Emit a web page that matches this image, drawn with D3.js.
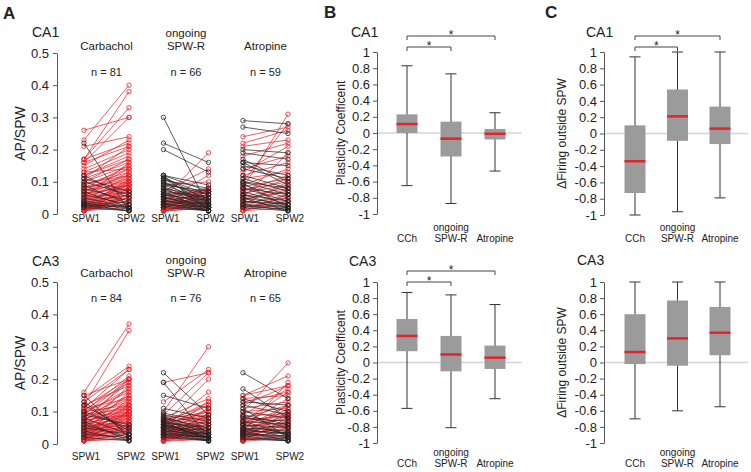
<!DOCTYPE html>
<html>
<head>
<meta charset="utf-8">
<script src="https://cdn.jsdelivr.net/npm/d3@7"></script>
<style>
  body { margin: 0; background: #fff; }
  text { font-family: "Liberation Sans", Arial, sans-serif; fill: #222; }
  .axis path, .axis line { stroke: #555; }
  .axis text { font-size: 13px; fill: #222; font-family: "Liberation Sans", Arial, sans-serif; }
</style>
</head>
<body>
<svg id="fig" width="751" height="472"></svg>
<script>
// ---- panel A: AP/SPW pairs [SPW1, SPW2] ----
var ca1Cch = [[0.26,0.30],[0.23,0.40],[0.21,0.24],[0.17,0.38],[0.17,0.33],[0.16,0.30],[0.17,0.22],[0.16,0.21],[0.15,0.23],[0.14,0.20],
  [0.13,0.19],[0.12,0.18],[0.12,0.17],[0.11,0.16],[0.11,0.21],[0.10,0.15],[0.10,0.17],[0.09,0.14],[0.09,0.13],[0.08,0.15],
  [0.08,0.12],[0.08,0.11],[0.07,0.14],[0.07,0.10],[0.07,0.12],[0.06,0.11],[0.06,0.09],[0.06,0.13],[0.05,0.08],[0.05,0.10],
  [0.05,0.16],[0.05,0.07],[0.04,0.09],[0.04,0.06],[0.04,0.12],[0.04,0.08],[0.03,0.07],[0.03,0.05],[0.03,0.10],[0.03,0.06],
  [0.03,0.09],[0.02,0.04],[0.02,0.06],[0.02,0.08],[0.02,0.05],[0.02,0.11],[0.02,0.03],[0.02,0.07],[0.01,0.03],[0.01,0.05],
  [0.01,0.04],[0.01,0.08],[0.01,0.02],[0.01,0.06],[0.01,0.10],[0.015,0.03],[0.015,0.05],[0.025,0.04],[0.035,0.06],[0.045,0.07],
  [0.055,0.09],[0.065,0.08],[0.075,0.09],[0.085,0.10],[0.095,0.12],[0.13,0.14],
  [0.22,0.01],[0.12,0.05],[0.11,0.07],[0.10,0.06],[0.09,0.03],[0.08,0.04],[0.07,0.02],[0.06,0.03],[0.05,0.02],[0.04,0.02],
  [0.03,0.01],[0.03,0.02],[0.02,0.01],[0.025,0.01],[0.035,0.015]];
var ca1Ongoing = [[0.30,0.02],[0.22,0.16],[0.20,0.13],[0.12,0.09],[0.12,0.07],[0.115,0.04],[0.11,0.06],[0.11,0.03],[0.10,0.05],[0.10,0.02],
  [0.09,0.04],[0.09,0.07],[0.085,0.03],[0.08,0.05],[0.08,0.02],[0.075,0.04],[0.07,0.01],[0.07,0.05],[0.065,0.03],[0.06,0.02],
  [0.06,0.04],[0.055,0.01],[0.05,0.03],[0.05,0.02],[0.045,0.01],[0.04,0.02],[0.04,0.03],[0.035,0.01],[0.03,0.02],[0.03,0.01],
  [0.025,0.01],[0.02,0.01],[0.12,0.01],[0.105,0.08],[0.095,0.06],
  [0.05,0.19],[0.07,0.14],[0.04,0.12],[0.09,0.10],[0.06,0.08],[0.03,0.07],[0.02,0.06],[0.01,0.05],[0.015,0.04],[0.02,0.08],
  [0.03,0.05],[0.01,0.03],[0.025,0.06],[0.035,0.07],[0.045,0.08],[0.01,0.02],[0.02,0.03],[0.015,0.07],[0.04,0.06],[0.05,0.07],
  [0.055,0.075],[0.01,0.04],[0.03,0.04],[0.02,0.05],[0.06,0.07],[0.012,0.03],[0.035,0.05],[0.045,0.06],[0.015,0.025],[0.025,0.035],
  [0.008,0.02]];
var ca1Atropine = [[0.29,0.28],[0.27,0.25],[0.20,0.19],[0.19,0.17],[0.16,0.15],[0.16,0.09],[0.15,0.12],[0.12,0.08],[0.10,0.06],[0.10,0.08],
  [0.09,0.05],[0.08,0.04],[0.08,0.06],[0.07,0.03],[0.06,0.04],[0.06,0.02],[0.05,0.03],[0.05,0.01],[0.04,0.02],[0.04,0.03],
  [0.03,0.01],[0.03,0.02],[0.025,0.015],[0.02,0.01],[0.17,0.10],[0.11,0.07],[0.14,0.11],[0.095,0.02],
  [0.08,0.31],[0.10,0.28],[0.24,0.27],[0.22,0.26],[0.21,0.23],[0.18,0.22],[0.13,0.21],[0.05,0.19],[0.14,0.18],[0.12,0.16],
  [0.09,0.14],[0.07,0.12],[0.06,0.11],[0.03,0.10],[0.02,0.08],[0.04,0.09],[0.05,0.07],[0.01,0.06],[0.02,0.05],[0.03,0.06],
  [0.01,0.04],[0.015,0.03],[0.035,0.05],[0.045,0.07],[0.055,0.08],[0.065,0.09],[0.075,0.10],[0.085,0.11],[0.11,0.13],[0.02,0.04],
  [0.01,0.02]];
var ca3Cch = [[0.16,0.37],[0.12,0.35],[0.14,0.24],[0.13,0.23],[0.11,0.23],[0.10,0.21],[0.15,0.20],[0.09,0.20],[0.08,0.19],[0.12,0.18],
  [0.07,0.17],[0.10,0.16],[0.06,0.15],[0.11,0.14],[0.05,0.13],[0.09,0.13],[0.04,0.12],[0.08,0.12],[0.03,0.11],[0.07,0.11],
  [0.02,0.10],[0.06,0.10],[0.01,0.09],[0.05,0.09],[0.04,0.08],[0.03,0.08],[0.02,0.07],[0.06,0.08],[0.01,0.06],[0.05,0.07],
  [0.04,0.06],[0.03,0.05],[0.02,0.05],[0.01,0.04],[0.02,0.03],[0.01,0.03],[0.01,0.02],[0.015,0.05],[0.025,0.06],[0.035,0.07],
  [0.045,0.09],[0.055,0.11],[0.065,0.12],[0.075,0.14],[0.085,0.15],[0.095,0.17],[0.105,0.19],[0.115,0.20],[0.03,0.14],[0.02,0.12],
  [0.04,0.16],[0.01,0.10],[0.05,0.18],[0.015,0.08],[0.025,0.09],[0.035,0.10],[0.045,0.06],[0.055,0.07],[0.065,0.09],[0.075,0.09],
  [0.01,0.015],[0.02,0.04],[0.03,0.04],[0.04,0.05],[0.08,0.10],[0.09,0.11],[0.10,0.12],[0.012,0.03],[0.022,0.045],[0.032,0.055],
  [0.042,0.10],[0.07,0.20],
  [0.15,0.02],[0.13,0.03],[0.12,0.04],[0.10,0.05],[0.08,0.03],[0.07,0.01],[0.06,0.02],[0.05,0.03],[0.04,0.01],[0.03,0.02],
  [0.02,0.01],[0.09,0.06]];
var ca3Ongoing = [[0.22,0.09],[0.19,0.02],[0.15,0.11],[0.09,0.06],[0.08,0.05],[0.08,0.03],[0.075,0.02],[0.07,0.04],[0.07,0.01],[0.065,0.05],
  [0.06,0.03],[0.06,0.02],[0.055,0.04],[0.05,0.01],[0.05,0.03],[0.045,0.02],[0.04,0.03],[0.04,0.01],[0.035,0.02],[0.03,0.01],
  [0.03,0.02],[0.025,0.01],[0.02,0.01],[0.085,0.04],[0.095,0.07],[0.11,0.08],[0.065,0.015],[0.055,0.02],
  [0.10,0.30],[0.19,0.22],[0.13,0.23],[0.09,0.22],[0.06,0.20],[0.05,0.16],[0.08,0.14],[0.04,0.13],[0.07,0.12],[0.03,0.11],
  [0.06,0.10],[0.02,0.09],[0.05,0.09],[0.01,0.08],[0.04,0.08],[0.03,0.07],[0.02,0.06],[0.01,0.05],[0.015,0.04],[0.025,0.05],
  [0.035,0.06],[0.045,0.07],[0.055,0.08],[0.065,0.09],[0.075,0.10],[0.01,0.03],[0.02,0.04],[0.03,0.05],[0.04,0.06],[0.05,0.07],
  [0.015,0.025],[0.025,0.035],[0.01,0.02],[0.02,0.03],[0.03,0.04],[0.012,0.06],[0.022,0.07],[0.032,0.09],[0.042,0.11],[0.052,0.12],
  [0.062,0.13],[0.072,0.08],[0.082,0.09],[0.008,0.015],[0.018,0.028],[0.028,0.038],[0.038,0.05],[0.048,0.06]];
var ca3Atropine = [[0.22,0.14],[0.17,0.08],[0.14,0.10],[0.12,0.09],[0.11,0.02],[0.10,0.08],[0.09,0.06],[0.08,0.07],[0.07,0.03],[0.06,0.05],
  [0.05,0.02],[0.045,0.03],[0.04,0.01],[0.035,0.02],[0.03,0.015],[0.025,0.01],[0.02,0.01],[0.05,0.04],[0.06,0.03],[0.07,0.06],
  [0.13,0.12],[0.04,0.035],[0.03,0.025],[0.015,0.01],[0.085,0.05],
  [0.10,0.25],[0.15,0.21],[0.04,0.19],[0.12,0.18],[0.09,0.17],[0.07,0.16],[0.14,0.15],[0.06,0.14],[0.11,0.13],[0.05,0.12],
  [0.08,0.12],[0.03,0.11],[0.10,0.11],[0.02,0.10],[0.06,0.10],[0.04,0.09],[0.07,0.09],[0.01,0.08],[0.05,0.08],[0.03,0.07],
  [0.02,0.06],[0.04,0.06],[0.01,0.05],[0.03,0.05],[0.02,0.04],[0.01,0.03],[0.015,0.02],[0.025,0.035],[0.035,0.045],[0.045,0.055],
  [0.055,0.065],[0.065,0.075],[0.075,0.085],[0.085,0.095],[0.012,0.07],[0.022,0.09],[0.032,0.12],[0.15,0.18],[0.13,0.16],[0.008,0.02]];

var groupNames = ["Carbachol", "ongoing SPW-R", "Atropine"];
var groupHeaders = [["Carbachol"], ["ongoing", "SPW-R"], ["Atropine"]];
var spwLabels = ["SPW1", "SPW2"];
var apTicks = [0, 0.1, 0.2, 0.3, 0.4, 0.5];

// ---- panels B and C: box stats per condition [low whisker, Q1, median, Q3, high whisker] ----
var boxCats = ["CCh", "ongoing SPW-R", "Atropine"];
var boxCatLabels = [["CCh"], ["ongoing", "SPW-R"], ["Atropine"]];
var coefTicks = [-1, -0.8, -0.6, -0.4, -0.2, 0, 0.2, 0.4, 0.6, 0.8, 1];
var plastCA1 = [[-0.65, 0.00, 0.11, 0.23, 0.83], [-0.87, -0.29, -0.07, 0.14, 0.73], [-0.47, -0.08, -0.01, 0.05, 0.25]];
var plastCA3 = [[-0.57, 0.14, 0.33, 0.54, 0.87], [-0.81, -0.11, 0.10, 0.33, 0.84], [-0.45, -0.08, 0.06, 0.21, 0.72]];
var firingCA1 = [[-1.00, -0.73, -0.34, 0.10, 0.94], [-0.96, -0.09, 0.21, 0.54, 1.00], [-0.79, -0.13, 0.06, 0.33, 1.00]];
var firingCA3 = [[-0.70, -0.02, 0.13, 0.60, 1.00], [-0.60, -0.04, 0.30, 0.77, 1.00], [-0.55, 0.09, 0.37, 0.69, 1.00]];
var sigPairs = [[0, 1], [0, 2]];

var red = "#e3222b", dark = "#222";
var svg = d3.select("#fig");

var fmt = function(d) { return String(+d.toFixed(1)); };

function panelLetter(t, x, y) {
  svg.append("text").attr("x", x).attr("y", y)
    .style("font-size", "17px").style("font-weight", "bold").text(t);
}

function drawPairs(cfg) {
  var g = svg.append("g");
  var y = d3.scaleLinear().domain([0, 0.5]).range([cfg.bottom, cfg.top]);
  var gx = d3.scalePoint().domain(groupNames).range([84, 243]);
  var sx = d3.scalePoint().domain(spwLabels).range([0, 45]);

  g.append("g").attr("class", "axis")
    .attr("transform", "translate(57,0)")
    .call(d3.axisLeft(y).tickValues(apTicks).tickFormat(fmt).tickSize(4).tickSizeOuter(0).tickPadding(4));

  g.append("text")
    .attr("transform", "translate(25," + ((cfg.top + cfg.bottom) / 2) + ") rotate(-90)")
    .attr("text-anchor", "middle").style("font-size", "14px").text("AP/SPW");

  g.append("text").attr("x", 32).attr("y", cfg.titleY)
    .style("font-size", "14px").text(cfg.title);

  cfg.data.forEach(function(pairs, i) {
    var name = groupNames[i];
    var cx = gx(name) + 22.5;
    var up = pairs.filter(function(p) { return p[1] >= p[0]; });
    var down = pairs.filter(function(p) { return p[1] < p[0]; });
    [[up, red], [down, dark]].forEach(function(set) {
      var col = set[1];
      var sg = g.append("g");
      sg.selectAll("line").data(set[0]).enter().append("line")
        .attr("x1", gx(name) + sx("SPW1")).attr("x2", gx(name) + sx("SPW2"))
        .attr("y1", function(d) { return y(d[0]); })
        .attr("y2", function(d) { return y(d[1]); })
        .attr("stroke", col).attr("stroke-width", 0.8).attr("stroke-opacity", 0.9);
      spwLabels.forEach(function(s, j) {
        sg.selectAll("circle.s" + j).data(set[0]).enter().append("circle")
          .attr("class", "s" + j)
          .attr("cx", gx(name) + sx(s))
          .attr("cy", function(d) { return y(d[j]); })
          .attr("r", 2.2).attr("fill", "none")
          .attr("stroke", col).attr("stroke-width", 0.8);
      });
    });

    var hdr = groupHeaders[i];
    hdr.forEach(function(line, k) {
      g.append("text").attr("x", cx)
        .attr("y", cfg.headerY - (hdr.length - 1 - k) * 13.5)
        .attr("text-anchor", "middle").style("font-size", "11.5px").text(line);
    });
    g.append("text").attr("x", cx).attr("y", cfg.nY)
      .attr("text-anchor", "middle").style("font-size", "11px")
      .text("n = " + pairs.length);
    spwLabels.forEach(function(s) {
      g.append("text").attr("x", gx(name) + sx(s) + 2).attr("y", cfg.spwY)
        .attr("text-anchor", "middle").style("font-size", "10px").text(s);
    });
  });
}

function drawBoxes(cfg) {
  var g = svg.append("g");
  var y = d3.scaleLinear().domain([-1, 1]).range([cfg.bottom, cfg.top]);
  var x = d3.scalePoint().domain(boxCats).range([cfg.x0, cfg.x1]);
  var bw = 21, cap = 11;

  g.append("line")
    .attr("x1", cfg.axisX).attr("x2", cfg.zeroEnd)
    .attr("y1", y(0)).attr("y2", y(0))
    .attr("stroke", "#d4d4d4").attr("stroke-width", 1.5);

  g.append("g").attr("class", "axis")
    .attr("transform", "translate(" + cfg.axisX + ",0)")
    .call(d3.axisLeft(y).tickValues(coefTicks).tickFormat(fmt).tickSize(4).tickSizeOuter(0).tickPadding(3));

  g.append("text")
    .attr("transform", "translate(" + cfg.labelX + "," + ((cfg.top + cfg.bottom) / 2) + ") rotate(-90)")
    .attr("text-anchor", "middle").style("font-size", "12px").text(cfg.ylabel);

  g.append("text").attr("x", cfg.titleX).attr("y", cfg.titleY)
    .style("font-size", "14px").text(cfg.title);

  var b = g.selectAll("g.box").data(cfg.data).enter().append("g").attr("class", "box");
  b.append("line")
    .attr("x1", function(d, i) { return x(boxCats[i]); })
    .attr("x2", function(d, i) { return x(boxCats[i]); })
    .attr("y1", function(d) { return y(d[0]); })
    .attr("y2", function(d) { return y(d[4]); })
    .attr("stroke", "#333").attr("stroke-width", 1);
  [0, 4].forEach(function(k) {
    b.append("line")
      .attr("x1", function(d, i) { return x(boxCats[i]) - cap / 2; })
      .attr("x2", function(d, i) { return x(boxCats[i]) + cap / 2; })
      .attr("y1", function(d) { return y(d[k]); })
      .attr("y2", function(d) { return y(d[k]); })
      .attr("stroke", "#333").attr("stroke-width", 1);
  });
  b.append("rect")
    .attr("x", function(d, i) { return x(boxCats[i]) - bw / 2; })
    .attr("width", bw)
    .attr("y", function(d) { return y(d[3]); })
    .attr("height", function(d) { return y(d[1]) - y(d[3]); })
    .attr("fill", "#9b9b9b");
  b.append("line")
    .attr("x1", function(d, i) { return x(boxCats[i]) - bw / 2; })
    .attr("x2", function(d, i) { return x(boxCats[i]) + bw / 2; })
    .attr("y1", function(d) { return y(d[2]); })
    .attr("y2", function(d) { return y(d[2]); })
    .attr("stroke", red).attr("stroke-width", 2.5);

  boxCatLabels.forEach(function(lines, i) {
    lines.forEach(function(t, k) {
      g.append("text").attr("x", x(boxCats[i]))
        .attr("y", cfg.catY - (lines.length - 1 - k) * 11.5)
        .attr("text-anchor", "middle").style("font-size", "10px").text(t);
    });
  });

  // significance brackets
  cfg.sig.forEach(function(p, k) {
    var by = cfg.sigY[k];
    var xa = x(boxCats[p[0]]), xb = x(boxCats[p[1]]);
    g.append("path")
      .attr("d", "M" + xa + "," + (by + 4) + "V" + by + "H" + xb + "V" + (by + 4))
      .attr("fill", "none").attr("stroke", "#444").attr("stroke-width", 1);
    g.append("text").attr("x", (xa + xb) / 2).attr("y", by + 3)
      .attr("text-anchor", "middle").style("font-size", "12px").text("*");
  });
}

panelLetter("A", 3, 19);
panelLetter("B", 324, 18);
panelLetter("C", 545, 18);

drawPairs({ title: "CA1", titleY: 37, top: 53, bottom: 214, headerY: 50, nY: 76, spwY: 222,
  data: [ca1Cch, ca1Ongoing, ca1Atropine] });
drawPairs({ title: "CA3", titleY: 266, top: 282, bottom: 444, headerY: 277, nY: 302, spwY: 460,
  data: [ca3Cch, ca3Ongoing, ca3Atropine] });

drawBoxes({ title: "CA1", titleX: 351, titleY: 37, top: 52, bottom: 214, axisX: 377, x0: 407, x1: 495,
  zeroEnd: 522, labelX: 345, ylabel: "Plasticity Coefficent", catY: 242,
  data: plastCA1, sig: sigPairs, sigY: [47, 36] });
drawBoxes({ title: "CA3", titleX: 349, titleY: 266, top: 282, bottom: 443, axisX: 377, x0: 407, x1: 495,
  zeroEnd: 522, labelX: 345, ylabel: "Plasticity Coefficent", catY: 467,
  data: plastCA3, sig: sigPairs, sigY: [282, 271] });
drawBoxes({ title: "CA1", titleX: 586, titleY: 37, top: 52, bottom: 215, axisX: 604, x0: 635, x1: 720,
  zeroEnd: 748, labelX: 566, ylabel: "\u0394Firing outside SPW", catY: 242,
  data: firingCA1, sig: sigPairs, sigY: [47, 36] });
drawBoxes({ title: "CA3", titleX: 577, titleY: 265, top: 282, bottom: 443, axisX: 604, x0: 635, x1: 720,
  zeroEnd: 748, labelX: 566, ylabel: "\u0394Firing outside SPW", catY: 467,
  data: firingCA3, sig: [], sigY: [] });
</script>
</body>
</html>
